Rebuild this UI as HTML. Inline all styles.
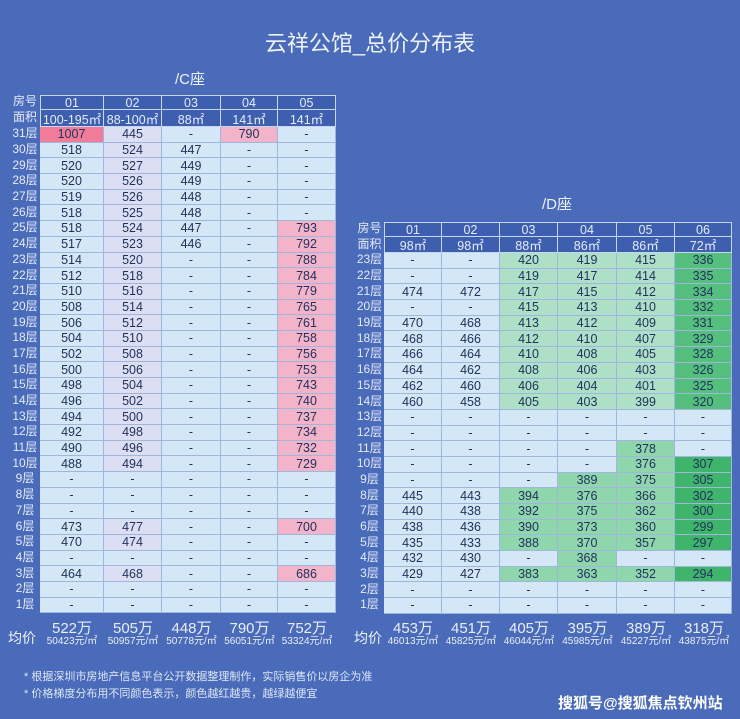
<!DOCTYPE html>
<html><head><meta charset="utf-8"><style>
*{margin:0;padding:0;box-sizing:border-box}
body{width:740px;height:719px;background:#4a6bba;font-family:"Liberation Sans","Noto Sans CJK SC",sans-serif;position:relative;overflow:hidden}
.t{position:absolute;color:#eef3fc;text-align:center}
.g{position:absolute;display:grid}
.g div{display:flex;align-items:center;justify-content:center;font-size:12.5px;color:#22325e;border-right:1px solid #9fb6de;border-bottom:1px solid #9fb6de;white-space:nowrap}
.g .l{color:#e4ecfb;border:none;background:none;font-size:12px;padding-bottom:3px;line-height:1}
.g .h{background:#3e5eb0;color:#e4ecfb;border:1px solid #c8d6f0;border-top:none;border-left:none}
.g .b{background:#d3e7f7}
.g .v{background:#dcdff3}
.g .p{background:#f3b3c8}
.g .P{background:#f07c98}
.g .e{background:#aee0c8}
.g .E{background:#8fd6ad}
.g .G{background:#55c07e}
.g .H{background:#3fb56b}
.avg{position:absolute;color:#e8eefb;text-align:center;line-height:1}
.avg b{display:block;font-weight:normal;font-size:15px}
.avg i{display:block;font-style:normal;font-size:10px;margin-top:1px}
</style></head><body>
<div class="t" style="left:0;width:740px;top:26px;font-size:22px">云祥公馆_总价分布表</div>
<div class="t" style="left:150px;width:80px;top:68px;font-size:15px">/C座</div>
<div class="t" style="left:517px;width:80px;top:193px;font-size:15px">/D座</div>

<div class="g" style="left:10px;top:95px;grid-template-columns:30px 64px 58px 59px 57px 58px;grid-template-rows:15px 17px repeat(31,15.7px)">
<div class="l">房号</div><div class="h" style="border-top:1px solid #c8d6f0;border-left:1px solid #c8d6f0">01</div><div class="h" style="border-top:1px solid #c8d6f0">02</div><div class="h" style="border-top:1px solid #c8d6f0">03</div><div class="h" style="border-top:1px solid #c8d6f0">04</div><div class="h" style="border-top:1px solid #c8d6f0">05</div>
<div class="l">面积</div><div class="h" style="border-left:1px solid #c8d6f0">100-195㎡</div><div class="h">88-100㎡</div><div class="h">88㎡</div><div class="h">141㎡</div><div class="h">141㎡</div>
<div class="l">31层</div><div class="P">1007</div><div class="v">445</div><div class="b">-</div><div class="p">790</div><div class="b">-</div>
<div class="l">30层</div><div class="b">518</div><div class="v">524</div><div class="b">447</div><div class="b">-</div><div class="b">-</div>
<div class="l">29层</div><div class="b">520</div><div class="v">527</div><div class="b">449</div><div class="b">-</div><div class="b">-</div>
<div class="l">28层</div><div class="b">520</div><div class="v">526</div><div class="b">449</div><div class="b">-</div><div class="b">-</div>
<div class="l">27层</div><div class="b">519</div><div class="v">526</div><div class="b">448</div><div class="b">-</div><div class="b">-</div>
<div class="l">26层</div><div class="b">518</div><div class="v">525</div><div class="b">448</div><div class="b">-</div><div class="b">-</div>
<div class="l">25层</div><div class="b">518</div><div class="v">524</div><div class="b">447</div><div class="b">-</div><div class="p">793</div>
<div class="l">24层</div><div class="b">517</div><div class="v">523</div><div class="b">446</div><div class="b">-</div><div class="p">792</div>
<div class="l">23层</div><div class="b">514</div><div class="v">520</div><div class="b">-</div><div class="b">-</div><div class="p">788</div>
<div class="l">22层</div><div class="b">512</div><div class="v">518</div><div class="b">-</div><div class="b">-</div><div class="p">784</div>
<div class="l">21层</div><div class="b">510</div><div class="v">516</div><div class="b">-</div><div class="b">-</div><div class="p">779</div>
<div class="l">20层</div><div class="b">508</div><div class="v">514</div><div class="b">-</div><div class="b">-</div><div class="p">765</div>
<div class="l">19层</div><div class="b">506</div><div class="v">512</div><div class="b">-</div><div class="b">-</div><div class="p">761</div>
<div class="l">18层</div><div class="b">504</div><div class="v">510</div><div class="b">-</div><div class="b">-</div><div class="p">758</div>
<div class="l">17层</div><div class="b">502</div><div class="v">508</div><div class="b">-</div><div class="b">-</div><div class="p">756</div>
<div class="l">16层</div><div class="b">500</div><div class="v">506</div><div class="b">-</div><div class="b">-</div><div class="p">753</div>
<div class="l">15层</div><div class="b">498</div><div class="v">504</div><div class="b">-</div><div class="b">-</div><div class="p">743</div>
<div class="l">14层</div><div class="b">496</div><div class="v">502</div><div class="b">-</div><div class="b">-</div><div class="p">740</div>
<div class="l">13层</div><div class="b">494</div><div class="v">500</div><div class="b">-</div><div class="b">-</div><div class="p">737</div>
<div class="l">12层</div><div class="b">492</div><div class="v">498</div><div class="b">-</div><div class="b">-</div><div class="p">734</div>
<div class="l">11层</div><div class="b">490</div><div class="v">496</div><div class="b">-</div><div class="b">-</div><div class="p">732</div>
<div class="l">10层</div><div class="b">488</div><div class="v">494</div><div class="b">-</div><div class="b">-</div><div class="p">729</div>
<div class="l">9层</div><div class="b">-</div><div class="b">-</div><div class="b">-</div><div class="b">-</div><div class="b">-</div>
<div class="l">8层</div><div class="b">-</div><div class="b">-</div><div class="b">-</div><div class="b">-</div><div class="b">-</div>
<div class="l">7层</div><div class="b">-</div><div class="b">-</div><div class="b">-</div><div class="b">-</div><div class="b">-</div>
<div class="l">6层</div><div class="b">473</div><div class="v">477</div><div class="b">-</div><div class="b">-</div><div class="p">700</div>
<div class="l">5层</div><div class="b">470</div><div class="v">474</div><div class="b">-</div><div class="b">-</div><div class="b">-</div>
<div class="l">4层</div><div class="b">-</div><div class="b">-</div><div class="b">-</div><div class="b">-</div><div class="b">-</div>
<div class="l">3层</div><div class="b">464</div><div class="v">468</div><div class="b">-</div><div class="b">-</div><div class="p">686</div>
<div class="l">2层</div><div class="b">-</div><div class="b">-</div><div class="b">-</div><div class="b">-</div><div class="b">-</div>
<div class="l">1层</div><div class="b">-</div><div class="b">-</div><div class="b">-</div><div class="b">-</div><div class="b">-</div>
</div>

<div class="g" style="left:355px;top:222px;grid-template-columns:29px 58px 58px 58px 59px 58px 57px;grid-template-rows:15px 16px repeat(23,15.7px)">
<div class="l">房号</div><div class="h" style="border-top:1px solid #c8d6f0;border-left:1px solid #c8d6f0">01</div><div class="h" style="border-top:1px solid #c8d6f0">02</div><div class="h" style="border-top:1px solid #c8d6f0">03</div><div class="h" style="border-top:1px solid #c8d6f0">04</div><div class="h" style="border-top:1px solid #c8d6f0">05</div><div class="h" style="border-top:1px solid #c8d6f0">06</div>
<div class="l">面积</div><div class="h" style="border-left:1px solid #c8d6f0">98㎡</div><div class="h">98㎡</div><div class="h">88㎡</div><div class="h">86㎡</div><div class="h">86㎡</div><div class="h">72㎡</div>
<div class="l">23层</div><div class="b">-</div><div class="b">-</div><div class="e">420</div><div class="e">419</div><div class="e">415</div><div class="G">336</div>
<div class="l">22层</div><div class="b">-</div><div class="b">-</div><div class="e">419</div><div class="e">417</div><div class="e">414</div><div class="G">335</div>
<div class="l">21层</div><div class="b">474</div><div class="b">472</div><div class="e">417</div><div class="e">415</div><div class="e">412</div><div class="G">334</div>
<div class="l">20层</div><div class="b">-</div><div class="b">-</div><div class="e">415</div><div class="e">413</div><div class="e">410</div><div class="G">332</div>
<div class="l">19层</div><div class="b">470</div><div class="b">468</div><div class="e">413</div><div class="e">412</div><div class="e">409</div><div class="G">331</div>
<div class="l">18层</div><div class="b">468</div><div class="b">466</div><div class="e">412</div><div class="e">410</div><div class="e">407</div><div class="G">329</div>
<div class="l">17层</div><div class="b">466</div><div class="b">464</div><div class="e">410</div><div class="e">408</div><div class="e">405</div><div class="G">328</div>
<div class="l">16层</div><div class="b">464</div><div class="b">462</div><div class="e">408</div><div class="e">406</div><div class="e">403</div><div class="G">326</div>
<div class="l">15层</div><div class="b">462</div><div class="b">460</div><div class="e">406</div><div class="e">404</div><div class="e">401</div><div class="G">325</div>
<div class="l">14层</div><div class="b">460</div><div class="b">458</div><div class="e">405</div><div class="e">403</div><div class="e">399</div><div class="G">320</div>
<div class="l">13层</div><div class="b">-</div><div class="b">-</div><div class="b">-</div><div class="b">-</div><div class="b">-</div><div class="b">-</div>
<div class="l">12层</div><div class="b">-</div><div class="b">-</div><div class="b">-</div><div class="b">-</div><div class="b">-</div><div class="b">-</div>
<div class="l">11层</div><div class="b">-</div><div class="b">-</div><div class="b">-</div><div class="b">-</div><div class="E">378</div><div class="b">-</div>
<div class="l">10层</div><div class="b">-</div><div class="b">-</div><div class="b">-</div><div class="b">-</div><div class="E">376</div><div class="H">307</div>
<div class="l">9层</div><div class="b">-</div><div class="b">-</div><div class="b">-</div><div class="E">389</div><div class="E">375</div><div class="H">305</div>
<div class="l">8层</div><div class="b">445</div><div class="b">443</div><div class="E">394</div><div class="E">376</div><div class="E">366</div><div class="H">302</div>
<div class="l">7层</div><div class="b">440</div><div class="b">438</div><div class="E">392</div><div class="E">375</div><div class="E">362</div><div class="H">300</div>
<div class="l">6层</div><div class="b">438</div><div class="b">436</div><div class="E">390</div><div class="E">373</div><div class="E">360</div><div class="H">299</div>
<div class="l">5层</div><div class="b">435</div><div class="b">433</div><div class="E">388</div><div class="E">370</div><div class="E">357</div><div class="H">297</div>
<div class="l">4层</div><div class="b">432</div><div class="b">430</div><div class="b">-</div><div class="E">368</div><div class="b">-</div><div class="b">-</div>
<div class="l">3层</div><div class="b">429</div><div class="b">427</div><div class="E">383</div><div class="E">363</div><div class="E">352</div><div class="H">294</div>
<div class="l">2层</div><div class="b">-</div><div class="b">-</div><div class="b">-</div><div class="b">-</div><div class="b">-</div><div class="b">-</div>
<div class="l">1层</div><div class="b">-</div><div class="b">-</div><div class="b">-</div><div class="b">-</div><div class="b">-</div><div class="b">-</div>
</div>

<div class="t" style="left:8px;top:628px;font-size:14px">均价</div>
<div class="avg" style="left:40px;width:64px;top:621px"><b>522万</b><i>50423元/㎡</i></div>
<div class="avg" style="left:104px;width:58px;top:621px"><b>505万</b><i>50957元/㎡</i></div>
<div class="avg" style="left:162px;width:59px;top:621px"><b>448万</b><i>50778元/㎡</i></div>
<div class="avg" style="left:221px;width:57px;top:621px"><b>790万</b><i>56051元/㎡</i></div>
<div class="avg" style="left:278px;width:58px;top:621px"><b>752万</b><i>53324元/㎡</i></div>

<div class="t" style="left:354px;top:628px;font-size:14px">均价</div>
<div class="avg" style="left:384px;width:58px;top:621px"><b>453万</b><i>46013元/㎡</i></div>
<div class="avg" style="left:442px;width:58px;top:621px"><b>451万</b><i>45825元/㎡</i></div>
<div class="avg" style="left:500px;width:58px;top:621px"><b>405万</b><i>46044元/㎡</i></div>
<div class="avg" style="left:558px;width:59px;top:621px"><b>395万</b><i>45985元/㎡</i></div>
<div class="avg" style="left:617px;width:58px;top:621px"><b>389万</b><i>45227元/㎡</i></div>
<div class="avg" style="left:675px;width:58px;top:621px"><b>318万</b><i>43875元/㎡</i></div>

<div class="t" style="left:24px;top:668px;font-size:11px;text-align:left;color:#dde6f8">* 根据深圳市房地产信息平台公开数据整理制作，实际销售价以房企为准</div>
<div class="t" style="left:24px;top:685px;font-size:11px;text-align:left;color:#dde6f8">* 价格梯度分布用不同颜色表示，颜色越红越贵，越绿越便宜</div>
<div class="t" style="left:558px;top:692px;font-size:15px;font-weight:bold;color:#fff">搜狐号@搜狐焦点钦州站</div>
</body></html>
